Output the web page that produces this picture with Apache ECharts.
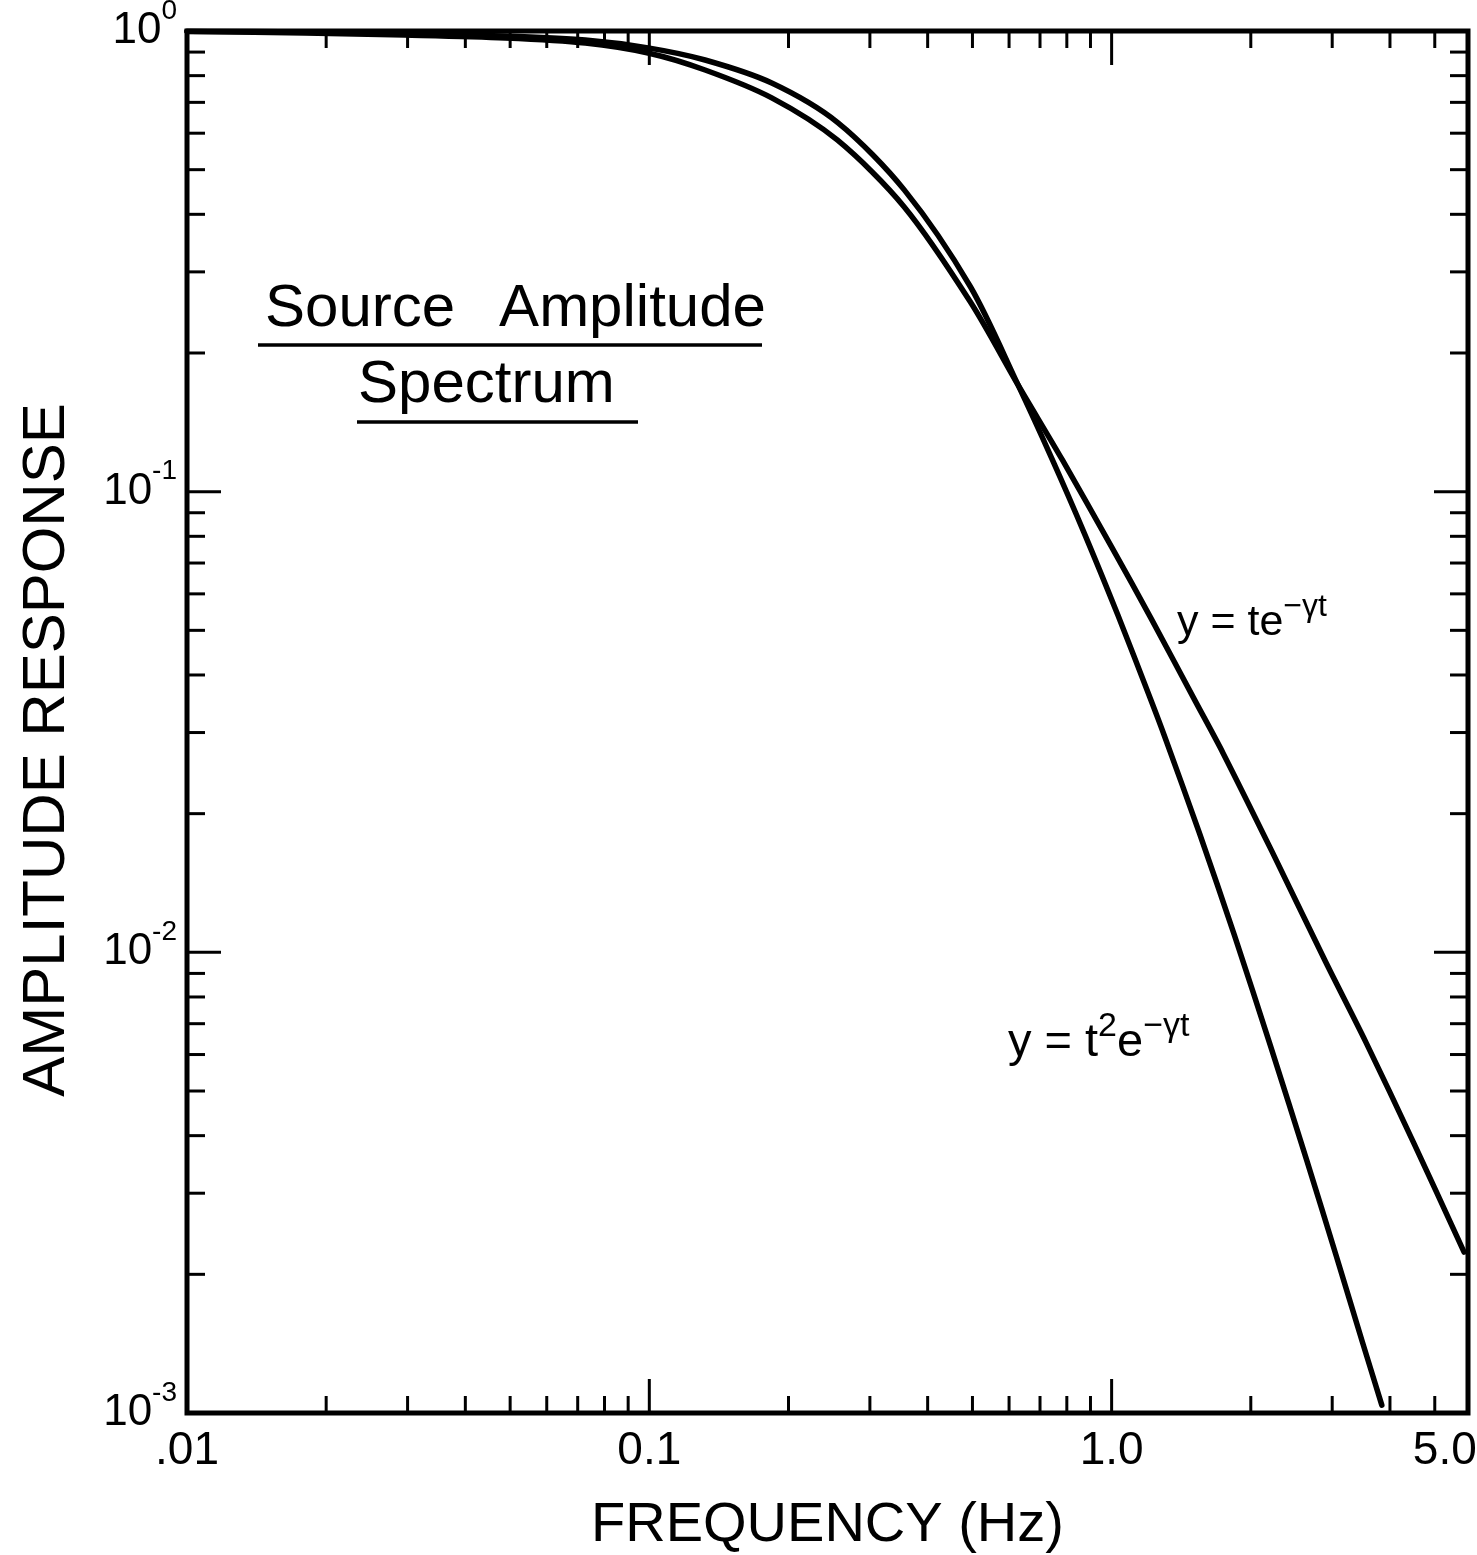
<!DOCTYPE html>
<html><head><meta charset="utf-8">
<script src="https://cdn.jsdelivr.net/npm/echarts@6/dist/echarts.min.js"></script>
<style>html,body{margin:0;padding:0;background:#fff}#c{width:1477px;height:1555px}</style>
</head><body><div id="c"></div>
<script>
const FONT = '"Liberation Sans", Arial, sans-serif';

// ---- data ----
const freqTe = [0.01, 0.018, 0.0296, 0.0488, 0.0727, 0.0994, 0.132, 0.184, 0.255, 0.356, 0.495, 0.627, 0.782, 0.999, 1.217, 1.517, 1.741, 2.225, 2.901, 3.543, 4.507, 5.786];
const ampTe  = [0.998, 0.990, 0.980, 0.966, 0.942, 0.896, 0.823, 0.716, 0.580, 0.415, 0.258, 0.1707, 0.1173, 0.0760, 0.0531, 0.0351, 0.0271, 0.01652, 0.00955, 0.00640, 0.00385, 0.002235];

const freqT2e = [0.01, 0.018, 0.0296, 0.0488, 0.0727, 0.0994, 0.132, 0.184, 0.256, 0.356, 0.495, 0.627, 0.743, 0.873, 1.032, 1.212, 1.304, 1.547, 1.843, 2.207, 2.644, 3.058, 3.484, 3.841];
const ampT2e  = [0.999, 0.995, 0.985, 0.975, 0.956, 0.919, 0.865, 0.771, 0.632, 0.452, 0.2785, 0.1707, 0.1178, 0.0812, 0.0539, 0.0356, 0.0293, 0.0182, 0.0109, 0.00626, 0.00353, 0.00220, 0.00143, 0.00104];

const X_MIN = 0.01, X_MAX = 5.9, Y_MIN = 0.001, Y_MAX = 1;
const xMinorTicks = [0.02,0.03,0.04,0.05,0.06,0.07,0.08,0.09, 0.2,0.3,0.4,0.5,0.6,0.7,0.8,0.9, 2,3,4,5];
const xMajorTicks = [0.1, 1];
const yMinorTicks = [0.002,0.003,0.004,0.005,0.006,0.007,0.008,0.009, 0.02,0.03,0.04,0.05,0.06,0.07,0.08,0.09, 0.2,0.3,0.4,0.5,0.6,0.7,0.8,0.9];
const yMajorTicks = [0.01, 0.1];
const xDecadeLabels = {'-2': '.01', '-1': '0.1', '0': '1.0'};
const xExtraLabelValues = [5];
const xExtraLabelTexts = ['5.0'];

const tickData = [];
xMinorTicks.forEach(v => tickData.push([v, Y_MIN, 0]));
xMajorTicks.forEach(v => tickData.push([v, Y_MIN, 1]));
yMinorTicks.forEach(v => tickData.push([X_MIN, v, 2]));
yMajorTicks.forEach(v => tickData.push([X_MIN, v, 3]));

function isDecade(v){ const l = Math.log10(v); return Math.abs(l - Math.round(l)) < 1e-6; }

const chart = echarts.init(document.getElementById('c'), null, {renderer: 'canvas'});
const option = {
  backgroundColor: '#fff',
  animation: false,
  grid: {left: 187, top: 31, right: 9, bottom: 142, show: true, borderColor: '#000', borderWidth: 5, backgroundColor: 'transparent', outerBoundsMode: 'none'},
  xAxis: {
    type: 'log', logBase: 10, min: X_MIN, max: X_MAX,
    axisLine: {show: false}, axisTick: {show: false}, splitLine: {show: false},
    minorTick: {show: false}, minorSplitLine: {show: false},
    axisLabel: {
      margin: 15, fontSize: 46, lineHeight: 46, fontFamily: FONT, color: '#000',
      formatter: v => isDecade(v) ? (xDecadeLabels[String(Math.round(Math.log10(v)))] || '') : ''
    },
    name: 'FREQUENCY (Hz)', nameLocation: 'middle', nameGap: 85,
    nameTextStyle: {fontSize: 56, fontFamily: FONT, color: '#000'}
  },
  yAxis: {
    type: 'log', logBase: 10, min: Y_MIN, max: Y_MAX,
    axisLine: {show: false}, axisTick: {show: false}, splitLine: {show: false},
    minorTick: {show: false}, minorSplitLine: {show: false},
    axisLabel: {
      margin: 10, color: '#000',
      formatter: v => isDecade(v) ? '{b|10}{s|' + Math.round(Math.log10(v)) + '}' : '',
      rich: {
        b: {fontSize: 44, fontFamily: FONT, color: '#000', lineHeight: 68},
        s: {fontSize: 28, fontFamily: FONT, color: '#000', lineHeight: 28, verticalAlign: 'top'}
      }
    },
    name: 'AMPLITUDE RESPONSE', nameLocation: 'middle', nameGap: 110, nameRotate: 90,
    nameTextStyle: {fontSize: 60, fontFamily: FONT, color: '#000', padding: [0, 56, 0, 0]}
  },
  series: [
    {
      name: 'y = te^-γt', type: 'line', data: freqTe.map((f, i) => [f, ampTe[i]]),
      symbol: 'none', smooth: 0.3,
      lineStyle: {color: '#000', width: 5.5, join: 'round', cap: 'round'}, z: 3
    },
    {
      name: 'y = t²e^-γt', type: 'line', data: freqT2e.map((f, i) => [f, ampT2e[i]]),
      symbol: 'none', smooth: 0.3,
      lineStyle: {color: '#000', width: 5.5, join: 'round', cap: 'round'}, z: 3
    },
    {
      type: 'custom', clip: false, silent: true, z: 4,
      data: tickData,
      renderItem: function (params, api) {
        const kind = api.value(2);
        const st = {stroke: '#000', lineWidth: 3};
        if (kind < 2) {
          const v = api.value(0);
          const pb = api.coord([v, Y_MIN]);
          const pt = api.coord([v, Y_MAX]);
          const len = kind === 1 ? 34 : 17;
          return {type: 'group', children: [
            {type: 'line', shape: {x1: pb[0], y1: pb[1], x2: pb[0], y2: pb[1] - len}, style: st},
            {type: 'line', shape: {x1: pt[0], y1: pt[1], x2: pt[0], y2: pt[1] + len}, style: st}
          ]};
        } else {
          const v = api.value(1);
          const pl = api.coord([X_MIN, v]);
          const pr = api.coord([X_MAX, v]);
          const len = kind === 3 ? 34 : 18;
          return {type: 'group', children: [
            {type: 'line', shape: {x1: pl[0], y1: pl[1], x2: pl[0] + len, y2: pl[1]}, style: st},
            {type: 'line', shape: {x1: pr[0], y1: pr[1], x2: pr[0] - len, y2: pr[1]}, style: st}
          ]};
        }
      }
    },
    {
      type: 'custom', clip: false, silent: true, z: 4,
      data: xExtraLabelValues.map((v, i) => [v, Y_MIN, i]),
      renderItem: function (params, api) {
        const p = api.coord([api.value(0), Y_MIN]);
        return {type: 'text', x: p[0] + 10, y: p[1] + 15,
          style: {text: xExtraLabelTexts[api.value(2)], fontSize: 46, lineHeight: 46, fontFamily: FONT, fill: '#000', align: 'center', verticalAlign: 'top'}};
      }
    }
  ],
  graphic: [
    {type: 'text', x: 265, y: 309, style: {
      text: '{a|Source}{g| }{a|Amplitude}', verticalAlign: 'middle', align: 'left',
      rich: {a: {fontSize: 60, fontFamily: FONT, fill: '#000'}, g: {fontSize: 60, width: 44}}}},
    {type: 'line', shape: {x1: 258, y1: 345, x2: 762, y2: 345}, style: {stroke: '#000', lineWidth: 3.5}},
    {type: 'text', x: 358, y: 385, style: {text: 'Spectrum', fontSize: 60, fontFamily: FONT, fill: '#000', verticalAlign: 'middle', align: 'left'}},
    {type: 'line', shape: {x1: 357, y1: 422, x2: 638, y2: 422}, style: {stroke: '#000', lineWidth: 3.5}},
    {type: 'text', x: 1177, y: 623, style: {
      text: '{m|y = te}{s|−γt}', verticalAlign: 'middle', align: 'left',
      rich: {m: {fontSize: 43, fontFamily: FONT, fill: '#000', lineHeight: 64}, s: {fontSize: 32, fontFamily: FONT, fill: '#000', lineHeight: 32, verticalAlign: 'top'}}}},
    {type: 'text', x: 1008, y: 1043, style: {
      text: '{m|y = t}{s|2}{m|e}{s|−γt}', verticalAlign: 'middle', align: 'left',
      rich: {m: {fontSize: 47, fontFamily: FONT, fill: '#000', lineHeight: 66}, s: {fontSize: 34, fontFamily: FONT, fill: '#000', lineHeight: 34, verticalAlign: 'top'}}}}
  ]
};
chart.setOption(option);
</script></body></html>
